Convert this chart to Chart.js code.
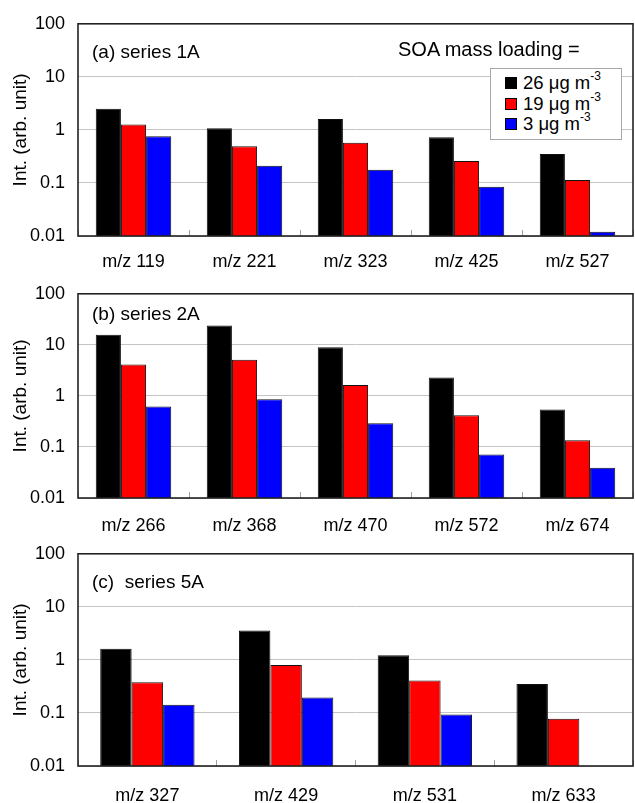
<!DOCTYPE html>
<html>
<head>
<meta charset="utf-8">
<script src="https://cdn.jsdelivr.net/npm/chart.js@4.4.1/dist/chart.umd.min.js"></script>
<style>
  html, body { margin: 0; padding: 0; background: #fff; }
  #wrap { position: relative; width: 635px; height: 803px; font-family: "Liberation Sans", Arial, sans-serif; color: #000; overflow: hidden; }
  .panel { position: absolute; left: 0; width: 635px; }
  .note { position: absolute; white-space: pre; line-height: 1; }
  .legend { position: absolute; background: #fff; border: 1px solid #a8a8a8; box-sizing: border-box; padding: 4px 0 0 14px; }
  .legend .row { display: flex; align-items: center; height: 20.5px; font-size: 18.5px; }
  .legend .sw { width: 12px; height: 12px; border: 1px solid #000; box-sizing: border-box; margin-right: 6px; }
  .legend sup { font-size: 12px; position: relative; top: -2px; vertical-align: top; line-height: 1; }
</style>
</head>
<body>
<div id="wrap">
  <canvas id="cA" class="panel" style="top:0px" width="635" height="275"></canvas>
  <canvas id="cB" class="panel" style="top:270px" width="635" height="270"></canvas>
  <canvas id="cC" class="panel" style="top:530px" width="635" height="273"></canvas>

  <div class="note" style="left:92px;top:42px;font-size:19px;">(a) series 1A</div>
  <div class="note" style="left:398px;top:39px;font-size:20px;">SOA mass loading =</div>
  <div class="note" style="left:92px;top:304px;font-size:19px;">(b) series 2A</div>
  <div class="note" style="left:92px;top:572px;font-size:19px;">(c)  series 5A</div>
  <div id="legend" class="legend" style="left:490px;top:68px;width:132px;height:72px;"></div>
</div>

<script>
// SOA mass loadings (µg m-3) and their bar colours
const loadings = ['26', '19', '3'];
const seriesColors = ['#000000', '#ff0000', '#0000ff'];

// log-axis tick values
const yTicks = [0.01, 0.1, 1, 10, 100];

// (a) series 1A
const labels1A = ['m/z 119', 'm/z 221', 'm/z 323', 'm/z 425', 'm/z 527'];
const high1A = [2.5, 1.08, 1.6, 0.73, 0.35];
const mid1A  = [1.26, 0.49, 0.57, 0.26, 0.114];
const low1A  = [0.76, 0.21, 0.177, 0.085, 0.012];

// (b) series 2A
const labels2A = ['m/z 266', 'm/z 368', 'm/z 470', 'm/z 572', 'm/z 674'];
const high2A = [15.8, 24, 9.0, 2.3, 0.54];
const mid2A  = [4.1, 5.1, 1.63, 0.42, 0.135];
const low2A  = [0.62, 0.86, 0.29, 0.071, 0.039];

// (c) series 5A
const labels5A = ['m/z 327', 'm/z 429', 'm/z 531', 'm/z 633'];
const high5A = [1.62, 3.57, 1.22, 0.35];
const mid5A  = [0.38, 0.80, 0.41, 0.078];
const low5A  = [0.143, 0.196, 0.093, null];

const FAMILY = '"Liberation Sans", Arial, sans-serif';
const TICK_FONT = { family: FAMILY, size: 18 };
const TITLE_FONT = { family: FAMILY, size: 19 };

// box around the plotting area
const framePlugin = {
  id: 'frame',
  afterDatasetsDraw(chart) {
    const { ctx, chartArea: a } = chart;
    ctx.save();
    ctx.strokeStyle = '#222';
    ctx.lineWidth = 1.6;
    ctx.strokeRect(a.left, a.top, a.right - a.left, a.bottom - a.top);
    ctx.restore();
  }
};

function makePanel(id, labels, series, xAxisHeight, labelPad) {
  const datasets = series.map((vals, i) => ({
    label: loadings[i] + ' \u03bcg m-3',
    data: vals,
    backgroundColor: seriesColors[i],
    borderColor: '#111',
    borderWidth: 1,
    categoryPercentage: 0.68,
    barPercentage: 1.0
  }));
  return new Chart(document.getElementById(id), {
    type: 'bar',
    data: { labels, datasets },
    plugins: [framePlugin],
    options: {
      responsive: false,
      animation: false,
      layout: { padding: { top: 21, right: 2, left: 0, bottom: 0 } },
      plugins: { legend: { display: false }, tooltip: { enabled: false } },
      scales: {
        x: {
          grid: { offset: true, drawOnChartArea: false, drawTicks: true, tickLength: -6, color: '#a0a0a0', lineWidth: 1 },
          border: { display: false },
          ticks: { color: '#000', font: TICK_FONT, padding: labelPad, maxRotation: 0, autoSkip: false },
          afterFit(s) { s.height = xAxisHeight; }
        },
        y: {
          type: 'logarithmic',
          min: 0.01,
          max: 100,
          afterBuildTicks(s) { s.ticks = yTicks.map(v => ({ value: v })); },
          ticks: { color: '#000', font: TICK_FONT, padding: 13, callback: v => String(v) },
          grid: { color: '#c4c4c4', lineWidth: 1, drawTicks: false },
          border: { display: false },
          title: { display: true, text: 'Int. (arb. unit)', color: '#000', font: TITLE_FONT, padding: { top: 9, bottom: 0 } },
          afterFit(s) { s.width = 78; }
        }
      }
    }
  });
}

// canvas heights minus plot bottoms give the x-axis band heights
makePanel('cA', labels1A, [high1A, mid1A, low1A], 39, 21);
makePanel('cB', labels2A, [high2A, mid2A, low2A], 42, 23);
makePanel('cC', labels5A, [high5A, mid5A, low5A], 37, 25);

// legend entries built from the loading list
const legendEl = document.getElementById('legend');
loadings.forEach((v, i) => {
  const row = document.createElement('div');
  row.className = 'row';
  const sw = document.createElement('span');
  sw.className = 'sw';
  sw.style.background = seriesColors[i];
  const txt = document.createElement('span');
  txt.innerHTML = v + ' \u03bcg m<sup>-3</sup>';
  row.appendChild(sw);
  row.appendChild(txt);
  legendEl.appendChild(row);
});
</script>
</body>
</html>
